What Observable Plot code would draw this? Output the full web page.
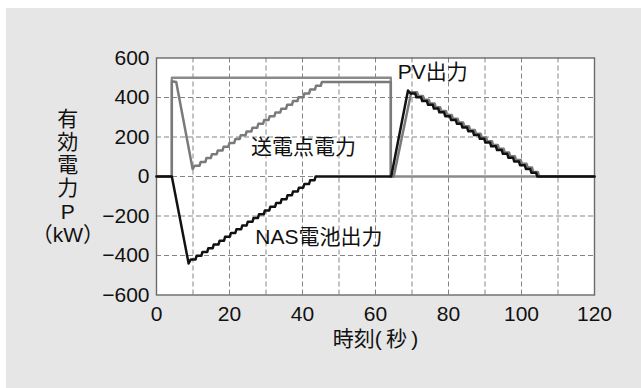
<!DOCTYPE html>
<html>
<head>
<meta charset="utf-8">
<script src="https://cdn.jsdelivr.net/npm/d3@7"></script>
<script src="https://cdn.jsdelivr.net/npm/@observablehq/plot@0.6"></script>
<style>
  html, body { margin: 0; padding: 0; background: #ffffff; }
  #panel { position: absolute; left: 6px; top: 8px; width: 635px; height: 380px; background: #e6e6e6; }
</style>
</head>
<body>
<div id="panel"></div>
<script>
// ---- axes ----
const xTicks = [0, 20, 40, 60, 80, 100, 120];
const yTicks = [-600, -400, -200, 0, 200, 400, 600];
const xGrid = [10, 20, 30, 40, 50, 60, 70, 80, 90, 100, 110];
const yGrid = [-400, -200, 0, 200, 400];

// ---- PV出力 (gray) ----
const pvT = [0, 4.2, 4.2, 64.2, 64.2, 120];
const pvV = [0, 0, 500, 500, 0, 0];

// ---- 送電点電力 (gray) ----
const sendLeadT = [0, 4.2, 4.2, 5.4, 9.9];
const sendLeadV = [0, 0, 482, 478, 38];
const sendUpT = [10.5, 12.1, 13.7, 15.2, 16.8, 18.4, 20.0, 21.6, 23.1, 24.7, 26.3, 27.9, 29.5, 31.0, 32.6, 34.2, 35.8, 37.4, 38.9, 40.5, 42.1, 43.7, 45.3];
const sendUpV = [55, 74, 94, 113, 132, 151, 170, 190, 209, 228, 247, 267, 286, 305, 324, 343, 363, 382, 401, 420, 440, 459, 478];
const sendMidT = [64.2, 64.2, 65.0];
const sendMidV = [478, 0, 0];
const sendDownT = [69.8, 71.7, 73.3, 74.9, 76.5, 78.0, 79.6, 81.2, 82.8, 84.3, 85.9, 87.5, 89.1, 90.6, 92.2, 93.8, 95.4, 96.9, 98.5, 100.1, 101.7, 103.2, 104.8];
const sendDownV = [426, 408, 389, 370, 351, 332, 312, 293, 274, 255, 236, 217, 198, 179, 160, 141, 122, 102, 83, 64, 45, 23, 0];
const sendTailT = [120];
const sendTailV = [0];

// ---- NAS電池出力 (black) ----
const nasLeadT = [0, 4.2, 8.8];
const nasLeadV = [0, 0, -440];
const nasUpT = [9.4, 11.0, 12.6, 14.2, 15.7, 17.3, 18.8, 20.4, 21.9, 23.5, 25.0, 26.6, 28.1, 29.7, 31.2, 32.8, 34.3, 35.9, 37.4, 39.0, 40.5, 42.1, 43.6];
const nasUpV = [-420, -401, -382, -363, -344, -325, -305, -286, -267, -248, -229, -210, -191, -172, -153, -134, -115, -95, -76, -57, -38, -19, 0];
const nasMidT = [64.3, 68.9];
const nasMidV = [0, 435];
const nasDownT = [69.6, 71.2, 72.8, 74.4, 76.0, 77.5, 79.1, 80.7, 82.3, 83.8, 85.4, 87.0, 88.6, 90.1, 91.7, 93.3, 94.9, 96.4, 98.0, 99.6, 101.2, 102.7, 104.3];
const nasDownV = [420, 401, 382, 363, 344, 325, 305, 286, 267, 248, 229, 210, 191, 172, 153, 134, 115, 95, 76, 57, 38, 19, 0];
const nasTailT = [120];
const nasTailV = [0];

// ---- labels ----
const labelText = ["PV出力", "送電点電力", "NAS電池出力"];
const labelT = [75.7, 40.3, 44.5];
const labelV = [527, 147, -309];

// build helpers
function pts(T, V) { return T.map((t, i) => ({t, v: V[i]})); }
function stairs(T, V, riser) {
  const out = [{t: T[0], v: V[0]}];
  for (let k = 1; k < T.length; k++) {
    out.push({t: T[k] - riser, v: V[k - 1]});
    out.push({t: T[k], v: V[k]});
  }
  return out;
}
const R = 0.3;
const pv = pts(pvT, pvV);
const send = [
  ...pts(sendLeadT, sendLeadV),
  ...stairs(sendUpT, sendUpV, R),
  ...pts(sendMidT, sendMidV),
  ...stairs(sendDownT, sendDownV, R),
  ...pts(sendTailT, sendTailV)
];
const nas = [
  ...pts(nasLeadT, nasLeadV),
  ...stairs(nasUpT, nasUpV, R),
  ...pts(nasMidT, nasMidV),
  ...stairs(nasDownT, nasDownV, R),
  ...pts(nasTailT, nasTailV)
];
const labels = labelText.map((s, i) => ({s, t: labelT[i], v: labelV[i]}));

const FONT = "'Liberation Sans', Arial, 'Noto Sans CJK JP', sans-serif";

const chart = Plot.plot({
  width: 635,
  height: 380,
  marginLeft: 150,
  marginRight: 47,
  marginTop: 49.5,
  marginBottom: 93.5,
  style: {background: "transparent", fontFamily: FONT, fontSize: "21px", color: "#111"},
  x: {domain: [0, 120]},
  y: {domain: [-600, 600]},
  marks: [
    Plot.frame({fill: "white", stroke: null}),
    Plot.ruleX(xGrid, {x: d => d, stroke: "#858585", strokeWidth: 1, strokeDasharray: "5,3"}),
    Plot.ruleY(yGrid, {y: d => d, stroke: "#858585", strokeWidth: 1, strokeDasharray: "5,3"}),
    Plot.frame({stroke: "#6a6a6a", strokeWidth: 1.4}),
    Plot.line(pv, {x: "t", y: "v", stroke: "#8a8a8a", strokeWidth: 2.3}),
    Plot.line(send, {x: "t", y: "v", stroke: "#7a7a7a", strokeWidth: 2.5}),
    Plot.line(nas, {x: "t", y: "v", stroke: "#111", strokeWidth: 2.5}),
    Plot.axisX(xTicks, {tickSize: 0, tickPadding: 11, label: null, fontSize: 21}),
    Plot.axisY(yTicks, {tickSize: 0, tickPadding: 7, label: null, fontSize: 21}),
    Plot.text(labels, {x: "t", y: "v", text: "s", fontSize: 21, fill: "#111"}),
    Plot.text(["時刻(\u2009秒\u2009)"], {frameAnchor: "bottom", dy: 50.5, fontSize: 21, fill: "#111"}),
    Plot.text(["有\n効\n電\n力\nP\n（kW）"], {frameAnchor: "left", dx: -88.7, textAnchor: "middle", lineHeight: 1.1, fontSize: 21, fill: "#111"})
  ]
});
document.getElementById("panel").appendChild(chart);
</script>
</body>
</html>
